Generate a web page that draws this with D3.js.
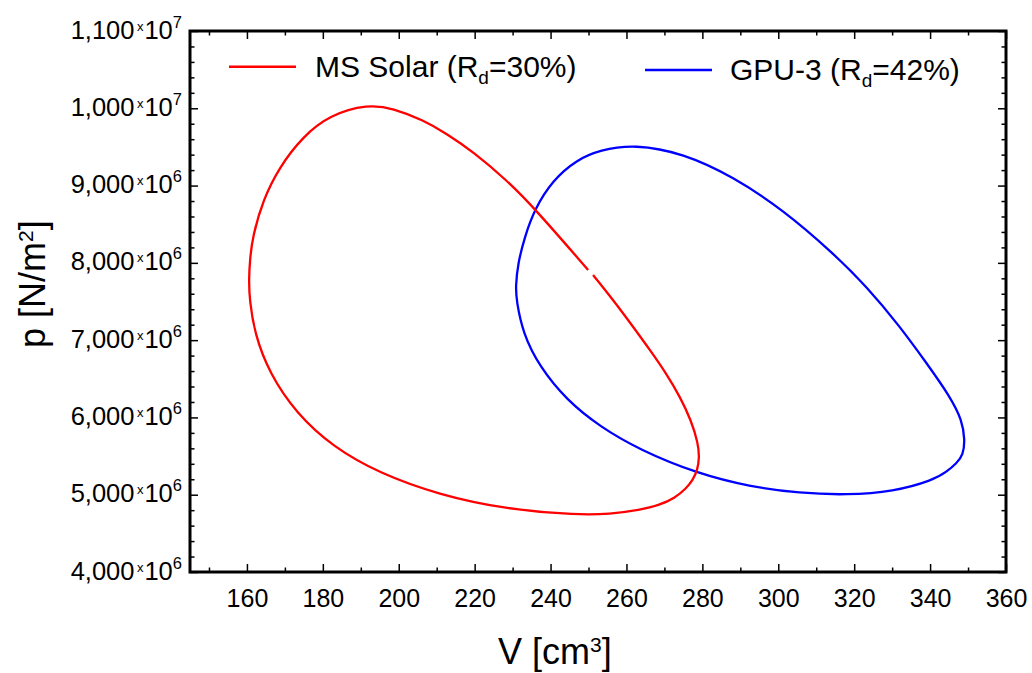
<!DOCTYPE html>
<html>
<head>
<meta charset="utf-8">
<script src="https://cdn.jsdelivr.net/npm/d3@7"></script>
<style>
  html, body { margin: 0; padding: 0; background: #fff; }
  svg { display: block; font-family: "Liberation Sans", Arial, Helvetica, sans-serif; }
</style>
</head>
<body>
<svg id="chart" width="1032" height="673"></svg>
<script>
// Indicator (p–V) cycles. Volume in cm³, pressure in units of 10^6 N/m².
const msSolarCycle = [
  [251.2, 7.843], [256.5, 7.519], [261.4, 7.196], [266.2, 6.872], [270.4, 6.575],
  [274.1, 6.268], [277.0, 5.967], [278.9, 5.665], [279.2, 5.475], [278.7, 5.320],
  [277.5, 5.190], [275.6, 5.074], [272.7, 4.957], [268.8, 4.867], [263.5, 4.802],
  [255.6, 4.750], [247.2, 4.737], [228.4, 4.811], [210.8, 4.996], [194.9, 5.277],
  [182.6, 5.621], [173.0, 6.053], [165.9, 6.571], [162.0, 7.089], [160.7, 7.519],
  [160.5, 7.778], [160.8, 8.050], [161.5, 8.338], [164.2, 8.813], [168.6, 9.244],
  [174.7, 9.632], [181.8, 9.913], [191.9, 10.052], [198.5, 10.000], [206.4, 9.848],
  [212.5, 9.676], [219.6, 9.438], [228.4, 9.072], [235.8, 8.706], [249.9, 7.908]
];

const gpu3Cycle = [
  [262.2, 9.534], [274.9, 9.418], [288.1, 9.115], [301.3, 8.684], [314.5, 8.124],
  [323.3, 7.692], [332.1, 7.174], [339.1, 6.700], [345.3, 6.268], [348.4, 5.967],
  [349.2, 5.708], [348.7, 5.514], [347.0, 5.407], [344.4, 5.298], [340.9, 5.190],
  [330.3, 5.039], [318.0, 4.996], [305.7, 5.019], [292.5, 5.104], [278.5, 5.277],
  [263.5, 5.580], [253.0, 5.880], [244.2, 6.226], [237.1, 6.656], [232.7, 7.089],
  [231.0, 7.519], [230.8, 7.692], [231.4, 7.994], [233.2, 8.338], [235.8, 8.697],
  [240.6, 9.072], [246.8, 9.331], [253.0, 9.460]
];

const xMajorTicks = [160, 180, 200, 220, 240, 260, 280, 300, 320, 340, 360];
const xMinorTicks = [150, 170, 190, 210, 230, 250, 270, 290, 310, 330, 350];
const yMajorTicks = [4, 5, 6, 7, 8, 9, 10, 11];
const yTickMantissa = ["4,000", "5,000", "6,000", "7,000", "8,000", "9,000", "1,000", "1,100"];
const yTickExponent = ["6", "6", "6", "6", "6", "6", "7", "7"];

const seriesNames = ["MS Solar (R", "GPU-3 (R"];
const seriesSubscripts = ["d", "d"];
const seriesTails = ["=30%)", "=42%)"];
const seriesColors = ["#ff0000", "#0000ff"];

// ---- layout ----
const svg = d3.select("#chart");
const plot = { left: 190, right: 1006, top: 31, bottom: 572 };

const x = d3.scaleLinear().domain([145, 360]).range([plot.left, plot.right]);
const y = d3.scaleLinear().domain([4, 11]).range([plot.bottom, plot.top]);

const yMinorTicks = d3.range(4, 11.001, 0.2)
  .map(v => +v.toFixed(1))
  .filter(v => !yMajorTicks.includes(v));

function tidy(g) {
  g.select(".domain").remove();
  g.attr("font-family", null).attr("font-size", null);
  g.selectAll(".tick line").attr("stroke", "#000").attr("stroke-width", 1.5);
}

// bottom axis with labels
svg.append("g")
  .attr("transform", `translate(0,${plot.bottom})`)
  .call(d3.axisBottom(x).tickValues(xMajorTicks).tickSizeInner(-8).tickSizeOuter(0)
    .tickPadding(17).tickFormat(d3.format("d")))
  .call(tidy)
  .call(g => g.selectAll("text").attr("font-size", 25).attr("fill", "#000"));
svg.append("g")
  .attr("transform", `translate(0,${plot.bottom})`)
  .call(d3.axisBottom(x).tickValues(xMinorTicks).tickSizeInner(-4.5).tickSizeOuter(0).tickFormat(""))
  .call(tidy);

// top axis (ticks only)
svg.append("g")
  .attr("transform", `translate(0,${plot.top})`)
  .call(d3.axisTop(x).tickValues(xMajorTicks).tickSizeInner(-8).tickSizeOuter(0).tickFormat(""))
  .call(tidy);
svg.append("g")
  .attr("transform", `translate(0,${plot.top})`)
  .call(d3.axisTop(x).tickValues(xMinorTicks).tickSizeInner(-4.5).tickSizeOuter(0).tickFormat(""))
  .call(tidy);

// left axis ticks
svg.append("g")
  .attr("transform", `translate(${plot.left},0)`)
  .call(d3.axisLeft(y).tickValues(yMajorTicks).tickSizeInner(-8).tickSizeOuter(0).tickFormat(""))
  .call(tidy);
svg.append("g")
  .attr("transform", `translate(${plot.left},0)`)
  .call(d3.axisLeft(y).tickValues(yMinorTicks).tickSizeInner(-4.5).tickSizeOuter(0).tickFormat(""))
  .call(tidy);

// right axis ticks
svg.append("g")
  .attr("transform", `translate(${plot.right},0)`)
  .call(d3.axisRight(y).tickValues(yMajorTicks).tickSizeInner(-8).tickSizeOuter(0).tickFormat(""))
  .call(tidy);
svg.append("g")
  .attr("transform", `translate(${plot.right},0)`)
  .call(d3.axisRight(y).tickValues(yMinorTicks).tickSizeInner(-4.5).tickSizeOuter(0).tickFormat(""))
  .call(tidy);

// y tick labels in "mantissa x 10^exp" form
svg.append("g")
  .selectAll("text")
  .data(yMajorTicks)
  .join("text")
  .attr("x", plot.left - 8)
  .attr("y", d => y(d) + 7.5)
  .attr("text-anchor", "end")
  .attr("font-size", 25.5)
  .attr("fill", "#000")
  .each(function (d, i) {
    const t = d3.select(this);
    t.append("tspan").text(yTickMantissa[i]);
    t.append("tspan").attr("font-size", 13).attr("dx", 2.5).attr("dy", -8).text("x");
    t.append("tspan").attr("dx", 1).attr("dy", 8).text("10");
    t.append("tspan").attr("font-size", 16.5).attr("dy", -11).text(yTickExponent[i]);
  });

// cycles, drawn as smooth B-spline paths through the sampled states
const line = d3.line().x(d => x(d[0])).y(d => y(d[1]));

svg.append("path")
  .datum(gpu3Cycle)
  .attr("d", line.curve(d3.curveBasisClosed))
  .attr("fill", "none")
  .attr("stroke", seriesColors[1])
  .attr("stroke-width", 2.3);

svg.append("path")
  .datum(msSolarCycle)
  .attr("d", line.curve(d3.curveBasis))
  .attr("fill", "none")
  .attr("stroke", seriesColors[0])
  .attr("stroke-width", 2.3);

// frame
svg.append("rect")
  .attr("x", plot.left).attr("y", plot.top)
  .attr("width", plot.right - plot.left).attr("height", plot.bottom - plot.top)
  .attr("fill", "none").attr("stroke", "#000").attr("stroke-width", 3);

// legend
const legendLayout = [
  { x1: 229, x2: 296, ly: 66.7, tx: 315, ty: 76.5 },
  { x1: 645, x2: 712, ly: 70,   tx: 730, ty: 80 }
];
const legend = svg.append("g").selectAll("g").data(legendLayout).join("g");
legend.append("line")
  .attr("x1", d => d.x1).attr("x2", d => d.x2)
  .attr("y1", d => d.ly).attr("y2", d => d.ly)
  .attr("stroke", (d, i) => seriesColors[i])
  .attr("stroke-width", 2.5);
legend.append("text")
  .attr("x", d => d.tx).attr("y", d => d.ty)
  .attr("font-size", 30)
  .attr("fill", "#000")
  .each(function (d, i) {
    const t = d3.select(this);
    t.append("tspan").text(seriesNames[i]);
    t.append("tspan").attr("font-size", 19).attr("dy", 7).text(seriesSubscripts[i]);
    t.append("tspan").attr("dy", -7).text(seriesTails[i]);
  });

// axis titles
const xTitle = svg.append("text")
  .attr("x", 498).attr("y", 664)
  .attr("font-size", 36).attr("fill", "#000");
xTitle.append("tspan").text("V [cm");
xTitle.append("tspan").attr("font-size", 21).attr("dy", -12).text("3");
xTitle.append("tspan").attr("dy", 12).text("]");

const yTitle = svg.append("text")
  .attr("transform", "translate(45,348) rotate(-90)")
  .attr("font-size", 36).attr("fill", "#000");
yTitle.append("tspan").text("p [N/m");
yTitle.append("tspan").attr("font-size", 21).attr("dy", -12).text("2");
yTitle.append("tspan").attr("dy", 12).text("]");
</script>
</body>
</html>
